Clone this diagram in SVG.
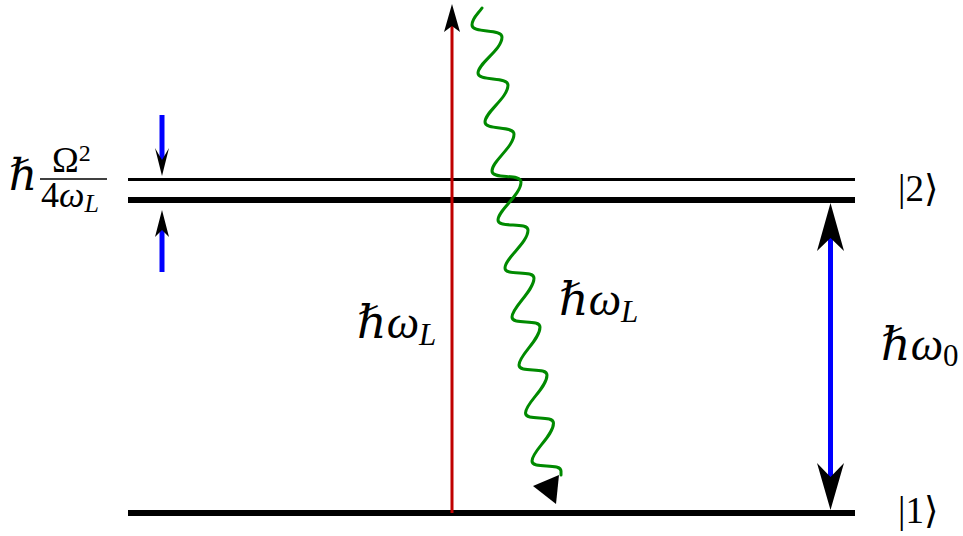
<svg xmlns="http://www.w3.org/2000/svg" width="963" height="536" viewBox="0 0 963 536">
<style>
.lvl{stroke:#000;fill:none}
.head{fill:#000;stroke:none}
.blue{stroke:#0000ff;stroke-width:5;fill:none}
.m{font-family:"Liberation Serif","DejaVu Serif",serif;fill:#000}
.i{font-style:italic}
</style>
<rect width="963" height="536" fill="#fff"/>
<g id="levels">
<line class="lvl" x1="128" y1="179.5" x2="855" y2="179.5" stroke-width="3"/>
<line class="lvl" x1="128" y1="200" x2="855" y2="200" stroke-width="6"/>
<line class="lvl" x1="128" y1="513" x2="855" y2="513" stroke-width="6"/>
</g>
<g id="connectors">
<g id="laser">
<line x1="452" y1="513" x2="452" y2="26" stroke="#c00000" stroke-width="3"/>
<polygon class="head" points="452,4 460,32 452,26 444,32"/>
</g>
<g id="emission">
<path fill="none" stroke="#008a00" stroke-width="3" stroke-linecap="round" d="M482,8 C478,14 472,18 472,25 C472,34 502,28 502,37 C502,50 478,63 478,73 C478,82 508,76 508,85 C508,98 485,112 485,122 C485,131 514,125 514,134 C514,147 492,161 492,171 C492,180 521,173 521,182 C521,195 498,210 498,220 C498,229 528,221 528,230 C528,243 505,258 505,268 C505,277 534,269 534,278 C534,291 512,307 512,317 C512,326 540,318 540,327 C540,340 519,355 519,365 C519,374 547,366 547,375 C547,388 525.5,403 525.5,413 C525.5,422 553.5,414 553.5,423 C553.5,436 532,451 532,461 C532,470 561,462 561,471 L561,475"/>
<polygon class="head" points="533,486 559,475 556,504"/>
</g>
<g id="w0">
<line class="blue" x1="830.5" y1="236" x2="830.5" y2="479"/>
<polygon class="head" points="830.5,203 844,251 830.5,238 817,251"/>
<polygon class="head" points="830.5,510 844,463 830.5,477 817,463"/>
</g>
<g id="shift">
<line class="blue" x1="162" y1="115" x2="162" y2="162"/>
<polygon class="head" points="162,176 169,148 162,160 155,148"/>
<line class="blue" x1="162" y1="272" x2="162" y2="228"/>
<polygon class="head" points="162,210 169,237 162,230 155,237"/>
</g>
</g>
<g id="label-shift">
<text class="m i" x="9" y="190" font-size="44">ℏ</text>
<text class="m" x="52" y="172" font-size="36">Ω<tspan font-size="24" dy="-11">2</tspan></text>
<line x1="40" y1="179" x2="107" y2="179" stroke="#000" stroke-width="1.5"/>
<text class="m" x="41" y="207" font-size="36">4<tspan class="i">ω</tspan><tspan class="i" font-size="26" dy="5">L</tspan></text>
</g>
<g id="label-laser">
<text class="m i" x="357" y="338" font-size="46">ℏω<tspan font-size="31" dy="7">L</tspan></text>
</g>
<g id="label-emission">
<text class="m i" x="559" y="315" font-size="46">ℏω<tspan font-size="31" dy="7">L</tspan></text>
</g>
<g id="label-w0">
<text class="m i" x="881" y="360" font-size="46">ℏω<tspan font-size="31" dy="6" font-style="normal">0</tspan></text>
</g>
<g id="state2">
<text class="m" x="898" y="201" font-size="37">|2⟩</text>
</g>
<g id="state1">
<text class="m" x="898" y="523" font-size="37">|1⟩</text>
</g>
</svg>
